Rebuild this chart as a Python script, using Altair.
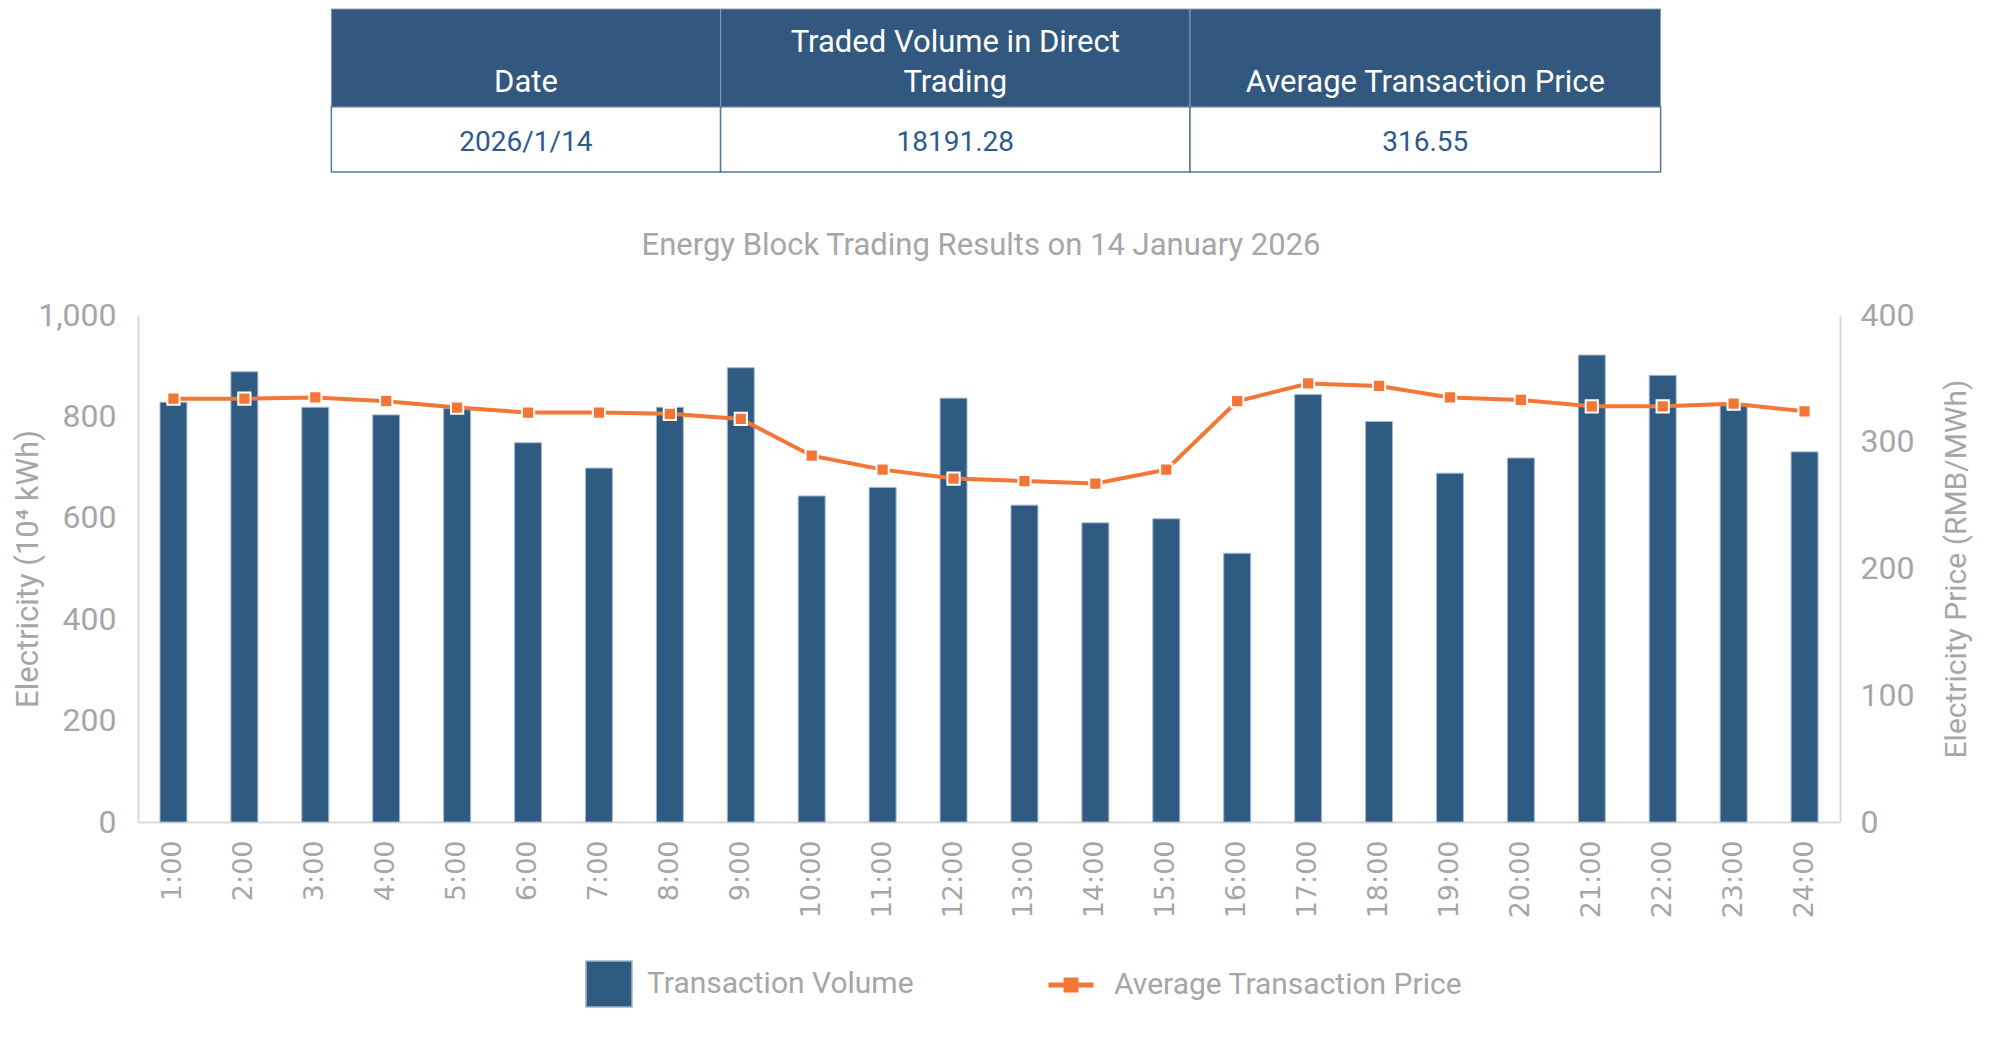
import altair as alt
import pandas as pd

# ---------------- data ----------------
HOURS = ["1:00", "2:00", "3:00", "4:00", "5:00", "6:00", "7:00", "8:00",
         "9:00", "10:00", "11:00", "12:00", "13:00", "14:00", "15:00", "16:00",
         "17:00", "18:00", "19:00", "20:00", "21:00", "22:00", "23:00", "24:00"]
VOLUME = [828, 888, 818, 803, 816, 748, 698, 818, 896, 643, 660, 836,
          625, 590, 598, 530, 843, 790, 688, 718, 921, 881, 821, 730]
PRICE = [334, 334, 335, 332, 327, 323, 323, 322, 318, 289, 278, 271,
         269, 267, 278, 332, 346, 344, 335, 333, 328, 328, 330, 324]

TABLE_HEADERS = ["Date", "Traded Volume in Direct\nTrading", "Average Transaction Price"]
TABLE_VALUES = ["2026/1/14", "18191.28", "316.55"]
# column edges of the summary table, as fractions of the plot width
TABLE_EDGES = [0.1136, 0.3423, 0.6181, 0.8946]

TITLE = "Energy Block Trading Results on 14 January 2026"
LEFT_TITLE = "Electricity (10\u2074 kWh)"
RIGHT_TITLE = "Electricity Price (RMB/MWh)"
VOL_SERIES = "Transaction Volume"
PRICE_SERIES = "Average Transaction Price"

# ---------------- styles ----------------
BLUE = "#2F5A82"
HEADER = "#32587F"
ORANGE = "#F47636"
GREY = "#A6A6A6"
AXIS_GREY = "#D9D9D9"
FONT = "Roboto"

PLOT_W = 1702
PLOT_H = 507
TABLE_H = 163
ROW_UNIT = TABLE_H / 2.5          # pixels per table row unit
LINE_H = 40                        # header line height in pixels

df = pd.DataFrame({"hour": HOURS, "volume": VOLUME, "price": PRICE})
df["vol_series"] = VOL_SERIES
df["price_series"] = PRICE_SERIES

tdf = pd.DataFrame({
    "x0": TABLE_EDGES[:-1],
    "x1": TABLE_EDGES[1:],
    "header": TABLE_HEADERS,
    "value": TABLE_VALUES,
})

# ---------------- table ----------------
ty = alt.Scale(domain=[0, 2.5], reverse=True)
tx = alt.Scale(domain=[0, 1])
tbase = alt.Chart(tdf).transform_calculate(
    xm="(datum.x0 + datum.x1) / 2",
    nl="length(split(datum.header, '\\n'))",
).transform_calculate(
    hy=f"1.38 - (datum.nl - 1) * {LINE_H / ROW_UNIT}"
)

head_rect = tbase.mark_rect(fill=HEADER, stroke="#8A9EB6", strokeWidth=1).encode(
    x=alt.X("x0:Q", scale=tx, axis=None), x2="x1:Q",
    y=alt.Y(datum=0, scale=ty, axis=None), y2=alt.Y2(datum=1.5))
val_rect = tbase.mark_rect(fill="white", stroke="#56779A", strokeWidth=1.5).encode(
    x=alt.X("x0:Q", scale=tx, axis=None), x2="x1:Q",
    y=alt.Y(datum=1.5, scale=ty, axis=None), y2=alt.Y2(datum=2.5))
head_text = tbase.mark_text(color="white", font=FONT, fontSize=31, baseline="bottom",
                            lineBreak="\n", lineHeight=LINE_H, align="center").encode(
    x=alt.X("xm:Q", scale=tx, axis=None),
    y=alt.Y("hy:Q", scale=ty, axis=None),
    text="header:N")
val_text = tbase.mark_text(color="#2E5A8C", font=FONT, fontSize=28, baseline="middle",
                           align="center").encode(
    x=alt.X("xm:Q", scale=tx, axis=None),
    y=alt.Y(datum=2.06, scale=ty, axis=None),
    text="value:N")

table = alt.layer(head_rect, val_rect, head_text, val_text).properties(width=PLOT_W, height=TABLE_H)

# ---------------- main chart ----------------
x_enc = alt.X("hour:N", sort=HOURS,
              scale=alt.Scale(paddingInner=0.62, paddingOuter=0.31),
              axis=alt.Axis(title=None, labelAngle=270, labelAlign="right", labelBaseline="middle",
                            labelFont="DejaVu Sans", labelFontSize=27, labelColor=GREY,
                            labelPadding=18, ticks=False, grid=False,
                            domainColor=AXIS_GREY, domainWidth=2))

base = alt.Chart(df)

bars = base.mark_bar(stroke="#A3B7CD", strokeWidth=1).encode(
    x=x_enc,
    y=alt.Y("volume:Q", scale=alt.Scale(domain=[0, 1000]),
            axis=alt.Axis(values=[0, 200, 400, 600, 800, 1000], format=",d", grid=False, ticks=False,
                          domainColor=AXIS_GREY, domainWidth=2,
                          labelFont=FONT, labelFontSize=32, labelColor=GREY, labelPadding=22,
                          title=LEFT_TITLE, titleFont=FONT, titleFontSize=31, titleFontWeight="normal",
                          titleColor=GREY, titleAngle=270, titleX=-110, titleY=PLOT_H / 2,
                          titleAlign="center", titleBaseline="middle")),
    fill=alt.Fill("vol_series:N", scale=alt.Scale(domain=[VOL_SERIES], range=[BLUE]),
                  legend=alt.Legend(title=None, orient="none", legendX=447, legendY=645,
                                    symbolType="square", symbolSize=2116,
                                    labelFont=FONT, labelFontSize=30, labelColor=GREY,
                                    labelOffset=14, labelLimit=0)),
)

price_y = alt.Y("price:Q", scale=alt.Scale(domain=[0, 400]),
                axis=alt.Axis(orient="right", values=[0, 100, 200, 300, 400], grid=False, ticks=False,
                              domainColor=AXIS_GREY, domainWidth=2,
                              labelFont=FONT, labelFontSize=32, labelColor=GREY, labelPadding=20,
                              title=RIGHT_TITLE, titleFont=FONT, titleFontSize=30,
                              titleFontWeight="normal", titleColor=GREY, titleAngle=270,
                              titleX=116, titleY=PLOT_H / 2, titleAlign="center",
                              titleBaseline="middle"))

line = base.mark_line(strokeWidth=4).encode(
    x=x_enc,
    y=price_y,
    stroke=alt.Stroke("price_series:N", scale=alt.Scale(domain=[PRICE_SERIES], range=[ORANGE]),
                      legend=alt.Legend(title=None, orient="none", legendX=908, legendY=645,
                                        symbolType="M-1,0H1M-0.22,-0.22H0.22V0.22H-0.22Z",
                                        symbolSize=2025, symbolStrokeWidth=5,
                                        symbolFillColor=ORANGE, symbolStrokeColor=ORANGE,
                                        labelFont=FONT, labelFontSize=30, labelColor=GREY,
                                        labelOffset=18, labelLimit=0)),
)
points = base.mark_square(size=150, color=ORANGE, stroke="white", strokeWidth=2, opacity=1).encode(
    x=x_enc, y=price_y)

main = alt.layer(bars, alt.layer(line, points)).resolve_scale(y="independent").properties(
    width=PLOT_W, height=PLOT_H,
    title=alt.TitleParams(text=TITLE, font=FONT, fontSize=31, fontWeight="normal", color=GREY,
                          anchor="middle", offset=37, dx=-8))

chart = alt.vconcat(table, main, spacing=143, bounds="flush").resolve_scale(
    fill="independent", stroke="independent").properties(
    padding={"left": 4, "top": 0, "right": 8, "bottom": 0},
    background="white",
).configure_view(strokeWidth=0, stroke="transparent")

chart.save("out.html", embed_options={"renderer": "svg", "actions": False})
